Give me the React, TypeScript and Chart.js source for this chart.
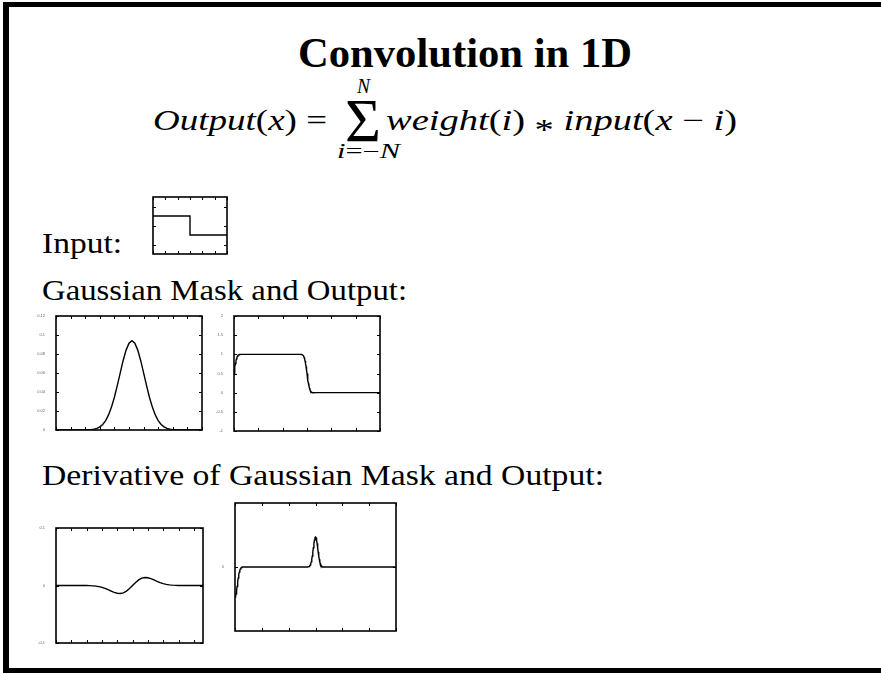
import React, { useEffect, useLayoutEffect, useRef } from "react";
import { Chart, registerables } from "chart.js";

Chart.register(...registerables);

// ---- Input step signal ----
const inputX = [0, 150, 150, 300];
const inputY = [0.5, 0.5, -0.5, -0.5];
const inputXTicks = [0, 50, 100, 150, 200, 250, 300];
const inputYTicks = [-1, 0, 1];

// ---- Gaussian mask, sampled at x = 0..50 ----
const maskY = [
  0, 0, 0, 0, 0, 0, 0, 0, 0, 0,
  0.0001, 0.0002, 0.0004, 0.0009, 0.0017, 0.0033, 0.0058, 0.0099, 0.0159, 0.0241,
  0.0345, 0.0469, 0.0602, 0.0732, 0.0841, 0.0914, 0.094, 0.0914, 0.0841, 0.0732,
  0.0602, 0.0469, 0.0345, 0.0241, 0.0159, 0.0099, 0.0058, 0.0033, 0.0017, 0.0009,
  0.0004, 0.0002, 0.0001, 0, 0, 0, 0, 0, 0, 0, 0,
];
const maskXTicks = [0, 5, 10, 15, 20, 25, 30, 35, 40, 45, 50];
const maskYTicks = [0, 0.02, 0.04, 0.06, 0.08, 0.1, 0.12];

// ---- Smoothed step (Gaussian mask applied to the input) ----
const outX = [
  0, 1, 2, 3, 4, 5, 6, 7, 8, 9, 10, 11, 12, 13, 14,
  136, 137, 138, 139, 140, 141, 142, 143, 144, 145, 146, 147, 148, 149, 150,
  151, 152, 153, 154, 155, 156, 157, 158, 159, 160, 161, 162, 163, 164, 300,
];
const outY = [
  0.5, 0.593, 0.681, 0.76, 0.827, 0.881, 0.921, 0.951, 0.97, 0.983, 0.991, 0.995, 0.998, 0.999, 1,
  1, 0.999, 0.998, 0.995, 0.991, 0.983, 0.97, 0.951, 0.921, 0.881, 0.827, 0.76, 0.681, 0.593, 0.5,
  0.407, 0.319, 0.24, 0.173, 0.119, 0.079, 0.049, 0.03, 0.017, 0.009, 0.005, 0.002, 0.001, 0, 0,
];
const outXTicks = [0, 50, 100, 150, 200, 250, 300];
const outYTicks = [-1, -0.5, 0, 0.5, 1, 1.5, 2];

// ---- Derivative of Gaussian mask, sampled at x = 0..48 ----
const dMaskY = [
  0, 0, 0, 0, 0, 0, 0, 0, 0,
  -0.0001, -0.0001, -0.0003, -0.0006, -0.0011, -0.002, -0.0032, -0.005, -0.0072, -0.0096,
  -0.0119, -0.0135, -0.014, -0.0128, -0.0098, -0.0053, 0, 0.0053, 0.0098, 0.0128,
  0.014, 0.0135, 0.0119, 0.0096, 0.0072, 0.005, 0.0032, 0.002, 0.0011, 0.0006,
  0.0003, 0.0001, 0.0001, 0, 0, 0, 0, 0, 0, 0,
];
const dMaskXTicks = [0, 5, 10, 15, 20, 25, 30, 35, 40, 45];
const dMaskYTicks = [-0.1, 0, 0.1];

// ---- Derivative-of-Gaussian response to the step ----
const dOutX = [
  0, 1, 2, 3, 4, 5, 6, 7, 8, 9, 10, 11, 12, 13, 14,
  136, 137, 138, 139, 140, 141, 142, 143, 144, 145, 146, 147, 148, 149, 150,
  151, 152, 153, 154, 155, 156, 157, 158, 159, 160, 161, 162, 163, 164, 300,
];
const dOutY = [
  -0.094, -0.0914, -0.0841, -0.0732, -0.0602, -0.0469, -0.0345, -0.0241, -0.0159, -0.0099, -0.0058, -0.0033, -0.0017, -0.0009, 0,
  0, 0.0009, 0.0017, 0.0033, 0.0058, 0.0099, 0.0159, 0.0241, 0.0345, 0.0469, 0.0602, 0.0732, 0.0841, 0.0914, 0.094,
  0.0914, 0.0841, 0.0732, 0.0602, 0.0469, 0.0345, 0.0241, 0.0159, 0.0099, 0.0058, 0.0033, 0.0017, 0.0009, 0, 0,
];
const dOutXTicks = [0, 50, 100, 150, 200, 250, 300];
const dOutYTicks = [0];

const maskX = maskY.map((_, i) => i);
const dMaskX = dMaskY.map((_, i) => i);

type PlotSpec = {
  xs: number[];
  ys: number[];
  xRange: [number, number];
  yRange: [number, number];
  xTicks: number[];
  yTicks: number[];
  labels: boolean;
  frame: [number, number, number, number];
};

// Box frame with inward tick marks on all four sides
const framePlugin = {
  id: "boxFrame",
  afterDraw(chart: any) {
    const { ctx, chartArea: a, scales } = chart;
    const tl = 3;
    ctx.save();
    ctx.strokeStyle = "#000";
    ctx.lineWidth = 1;
    ctx.beginPath();
    for (const t of scales.x.ticks) {
      const p = Math.round(scales.x.getPixelForValue(t.value)) + 0.5;
      ctx.moveTo(p, a.bottom);
      ctx.lineTo(p, a.bottom - tl);
      ctx.moveTo(p, a.top);
      ctx.lineTo(p, a.top + tl);
    }
    for (const t of scales.y.ticks) {
      const p = Math.round(scales.y.getPixelForValue(t.value)) + 0.5;
      ctx.moveTo(a.left, p);
      ctx.lineTo(a.left + tl, p);
      ctx.moveTo(a.right, p);
      ctx.lineTo(a.right - tl, p);
    }
    ctx.stroke();
    ctx.lineWidth = 1.6;
    ctx.strokeRect(a.left, a.top, a.right - a.left, a.bottom - a.top);
    ctx.restore();
  },
};

function Plot({ spec }: { spec: PlotSpec }) {
  const ref = useRef<HTMLCanvasElement>(null);
  const [fx, fy, fw, fh] = spec.frame;
  const L = 24, T = 8, R = 10, B = 12;
  useEffect(() => {
    const tickFont = { size: 4, family: "Liberation Sans" };
    const chart = new Chart(ref.current!, {
      type: "line",
      data: {
        datasets: [
          {
            data: spec.xs.map((x, i) => ({ x, y: spec.ys[i] })),
            borderColor: "#000",
            borderWidth: 1.4,
            pointRadius: 0,
            tension: 0,
            fill: false,
          },
        ],
      },
      options: {
        responsive: false,
        maintainAspectRatio: false,
        animation: false,
        devicePixelRatio: 1,
        layout: { padding: { left: 0, top: T, right: R, bottom: 0 } },
        plugins: { legend: { display: false }, tooltip: { enabled: false } },
        scales: {
          x: {
            type: "linear",
            min: spec.xRange[0],
            max: spec.xRange[1],
            grid: { display: false },
            border: { display: false },
            afterBuildTicks: (s: any) => {
              s.ticks = spec.xTicks.map((value) => ({ value }));
            },
            afterFit: (s: any) => {
              s.height = B;
              s.paddingLeft = 0;
              s.paddingRight = 0;
            },
            ticks: {
              display: spec.labels,
              font: tickFont,
              color: "#666",
              padding: 3,
              maxRotation: 0,
              autoSkip: false,
              callback: (v: any) => String(v),
            },
          },
          y: {
            type: "linear",
            min: spec.yRange[0],
            max: spec.yRange[1],
            grid: { display: false },
            border: { display: false },
            afterBuildTicks: (s: any) => {
              s.ticks = spec.yTicks.map((value) => ({ value }));
            },
            afterFit: (s: any) => {
              s.width = L;
              s.paddingTop = 0;
              s.paddingBottom = 0;
            },
            ticks: {
              display: spec.labels,
              font: tickFont,
              color: "#666",
              padding: 3,
              autoSkip: false,
              callback: (v: any) => String(v),
            },
          },
        },
      } as any,
      plugins: [framePlugin],
    });
    return () => chart.destroy();
  }, []);
  return (
    <canvas
      ref={ref}
      width={L + fw + R}
      height={T + fh + B}
      style={{ position: "absolute", left: fx - L, top: fy - T }}
    />
  );
}

// Text placed by its baseline and stretched to a given width
function Txt(props: {
  x: number;
  base: number;
  w?: number;
  size: number;
  family?: string;
  bold?: boolean;
  italic?: boolean;
  children: React.ReactNode;
}) {
  const ref = useRef<HTMLDivElement>(null);
  const mk = useRef<HTMLSpanElement>(null);
  useLayoutEffect(() => {
    const el = ref.current!;
    const m = mk.current!;
    el.style.transform = "none";
    const natural = el.getBoundingClientRect().width;
    el.style.top = `${props.base - m.offsetTop}px`;
    if (props.w) el.style.transform = `scaleX(${props.w / natural})`;
  }, []);
  return (
    <div
      ref={ref}
      style={{
        position: "absolute",
        left: props.x,
        top: 0,
        whiteSpace: "nowrap",
        fontSize: props.size,
        lineHeight: 1.2,
        fontFamily: props.family || "'Liberation Serif', serif",
        fontWeight: props.bold ? 700 : 400,
        fontStyle: props.italic ? "italic" : "normal",
        transformOrigin: "0 0",
        color: "#000",
      }}
    >
      {props.children}
      <span ref={mk} style={{ display: "inline-block", width: 0, height: 0 }} />
    </div>
  );
}

const plots: PlotSpec[] = [
  {
    xs: inputX, ys: inputY, xRange: [0, 300], yRange: [-1.5, 1.5],
    xTicks: inputXTicks, yTicks: inputYTicks, labels: false,
    frame: [153, 197, 74, 57],
  },
  {
    xs: maskX, ys: maskY, xRange: [0, 50], yRange: [0, 0.12],
    xTicks: maskXTicks, yTicks: maskYTicks, labels: true,
    frame: [56, 316, 146, 114],
  },
  {
    xs: outX, ys: outY, xRange: [0, 300], yRange: [-1, 2],
    xTicks: outXTicks, yTicks: outYTicks, labels: true,
    frame: [234, 316, 146, 115],
  },
  {
    xs: dMaskX, ys: dMaskY, xRange: [0, 48], yRange: [-0.1, 0.1],
    xTicks: dMaskXTicks, yTicks: dMaskYTicks, labels: true,
    frame: [56, 528, 147, 115],
  },
  {
    xs: dOutX, ys: dOutY, xRange: [0, 300], yRange: [-0.2, 0.2],
    xTicks: dOutXTicks, yTicks: dOutYTicks, labels: true,
    frame: [235, 503, 161, 128],
  },
];

export default function App() {
  useEffect(() => {
    document.documentElement.style.overflow = "hidden";
    document.documentElement.style.background = "#fff";
    document.body.style.margin = "0";
    document.body.style.background = "#fff";
  }, []);
  const bar = { position: "absolute" as const, background: "#000" };
  return (
    <div style={{ position: "fixed", left: 0, top: 0, width: 881, height: 673, background: "#fff", overflow: "hidden" }}>
      <div style={{ ...bar, left: 3, top: 2, width: 878, height: 5 }} />
      <div style={{ ...bar, left: 3, top: 2, width: 6, height: 671 }} />
      <div style={{ ...bar, left: 3, top: 668, width: 878, height: 5 }} />

      <Txt x={298} base={67} w={334} size={43} bold>
        Convolution in 1D
      </Txt>

      <Txt x={153} base={130} w={174} size={29}>
        <i>Output</i>(<i>x</i>) =
      </Txt>
      <Txt x={345} base={141} w={36} size={62}>
        Σ
      </Txt>
      <Txt x={357} base={93} w={13} size={20} italic>
        N
      </Txt>
      <Txt x={337} base={158} w={63} size={20}>
        <i>i</i>=−<i>N</i>
      </Txt>
      <Txt x={386} base={130} w={351} size={29}>
        <i>weight</i>(<i>i</i>){" "}
        <span style={{ position: "relative", top: "0.3em" }}>*</span>{" "}
        <i>input</i>(<i>x</i> − <i>i</i>)
      </Txt>

      <Txt x={42} base={253} w={80} size={29}>
        Input:
      </Txt>
      <Txt x={42} base={300} w={365} size={29}>
        Gaussian Mask and Output:
      </Txt>
      <Txt x={42} base={485} w={562} size={29}>
        Derivative of Gaussian Mask and Output:
      </Txt>

      {plots.map((p, i) => (
        <Plot key={i} spec={p} />
      ))}
    </div>
  );
}
